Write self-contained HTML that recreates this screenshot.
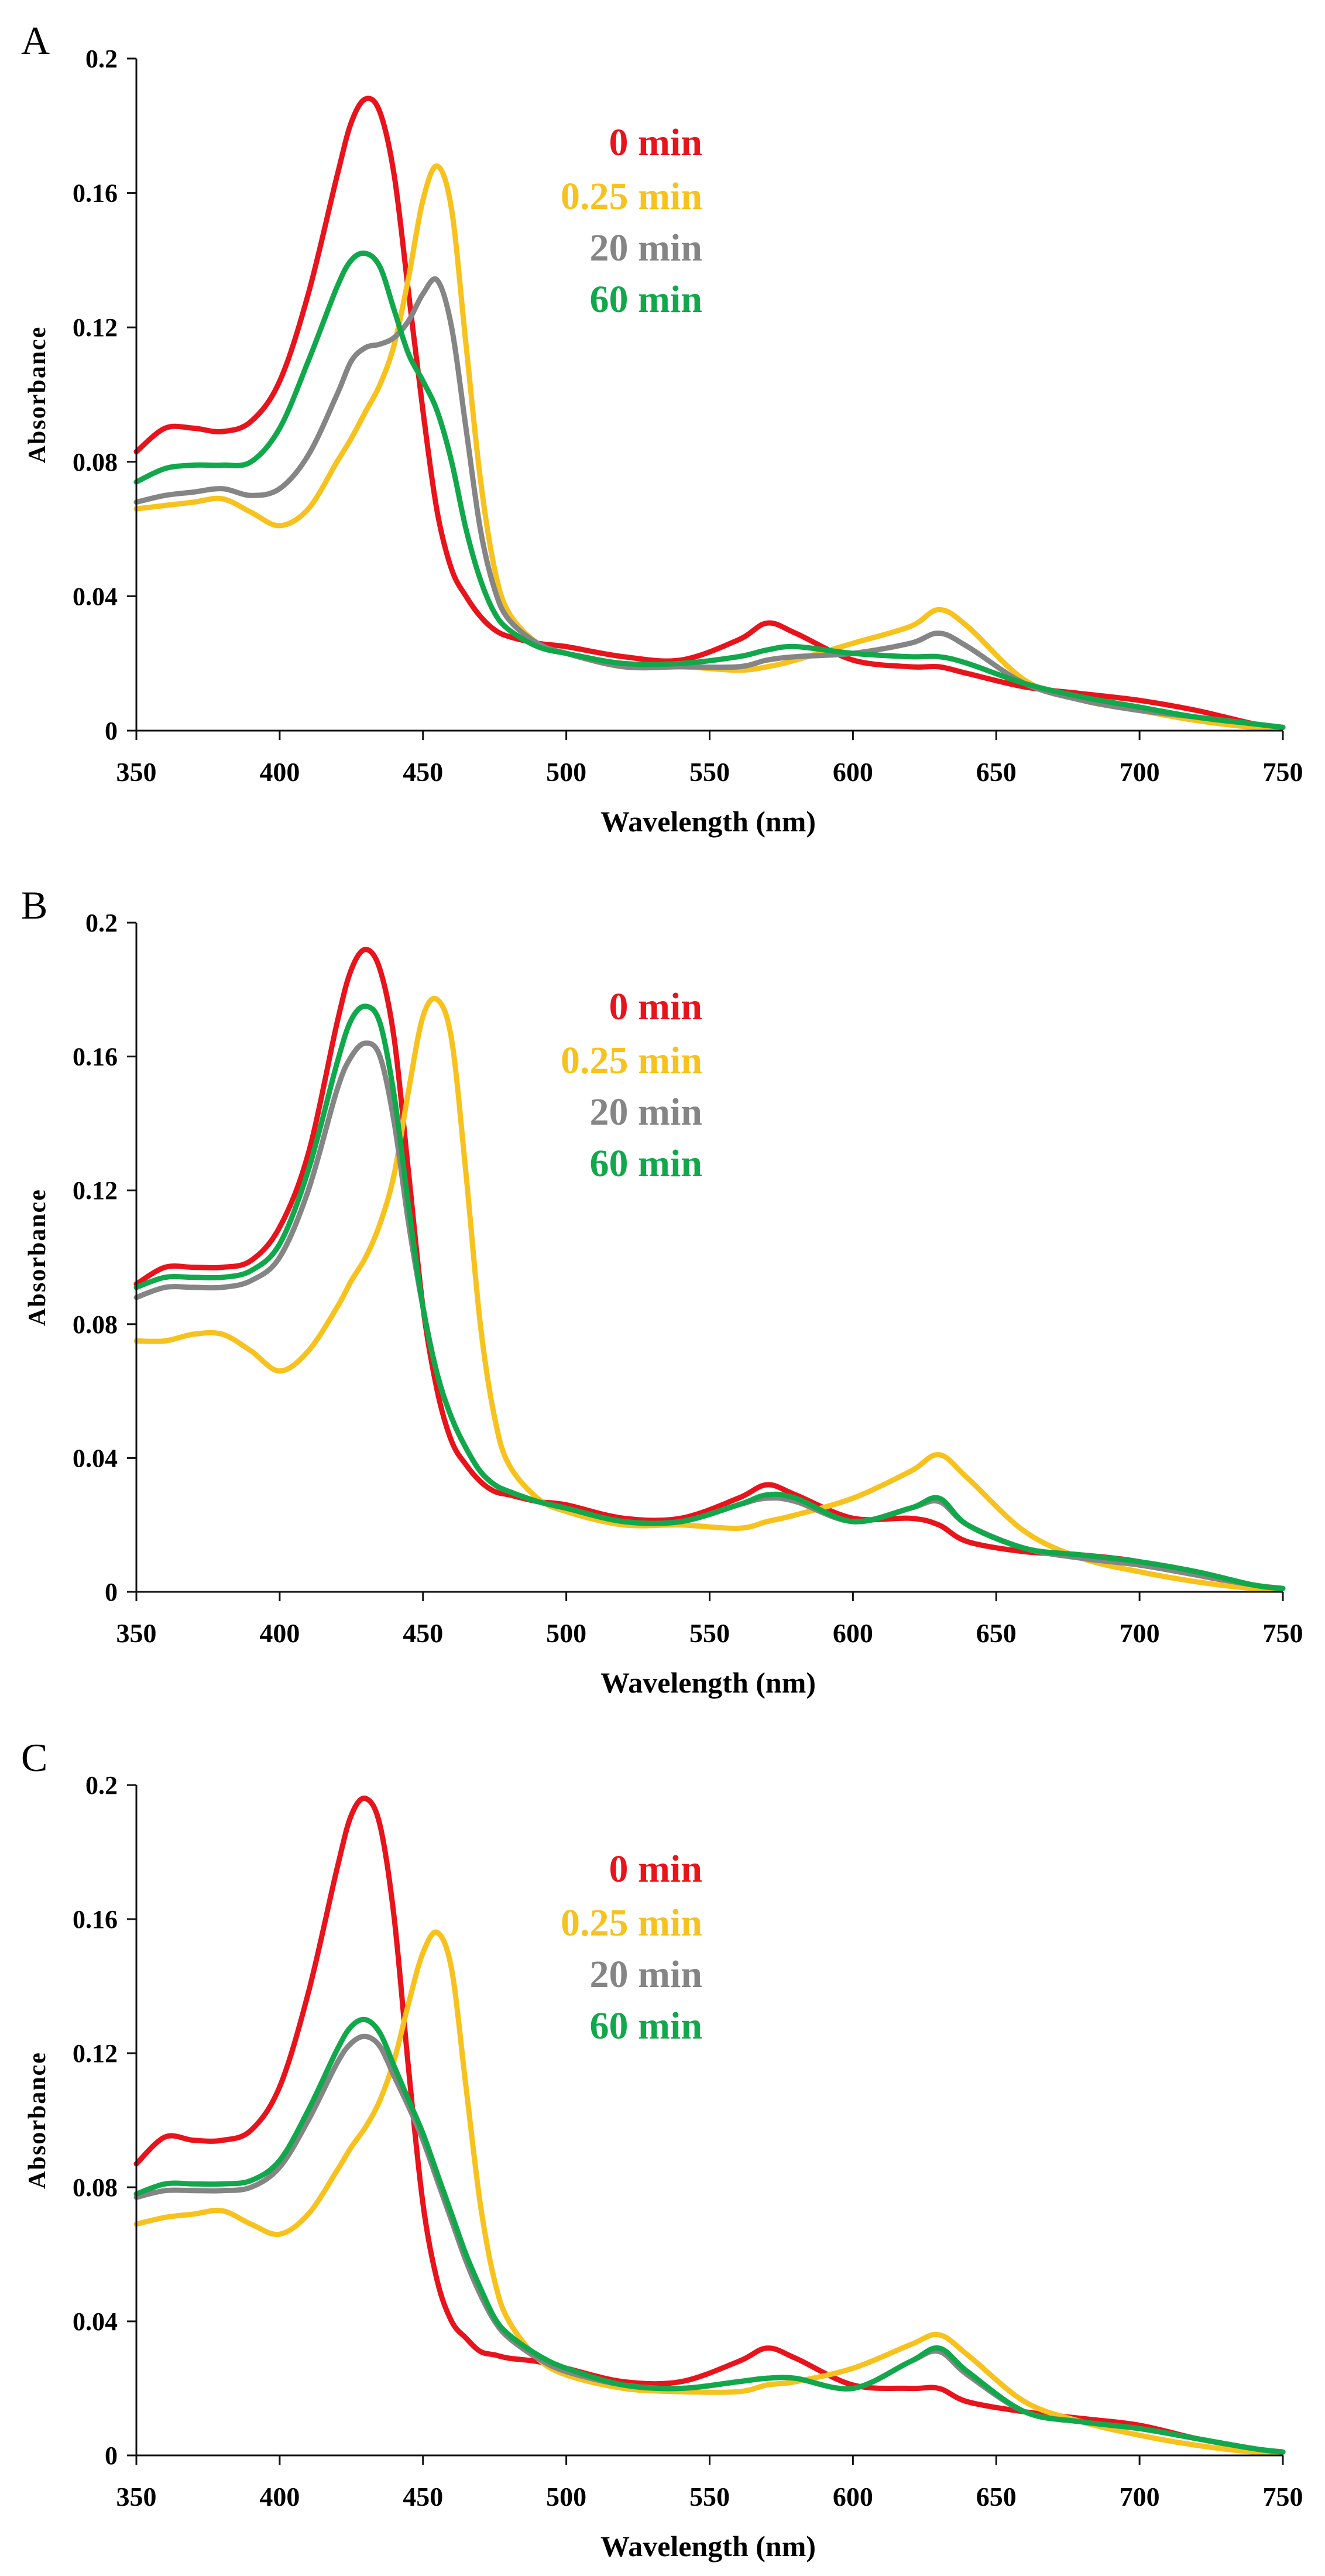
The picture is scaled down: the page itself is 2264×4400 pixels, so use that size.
<!DOCTYPE html>
<html><head><meta charset="utf-8">
<style>
html,body{margin:0;padding:0;background:#fff;}
svg{display:block;}
text{font-family:"Liberation Serif",serif;}
</style></head>
<body>
<svg id="fig" width="2264" height="4400" viewBox="0 0 2264 4400" xmlns="http://www.w3.org/2000/svg">
<rect width="2264" height="4400" fill="#fff"/>
</svg>
<script>
const wavelengths = [350,360,370,380,390,400,410,420,425,430,435,440,445,450,455,460,465,470,475,480,490,500,520,540,560,570,580,600,620,630,640,660,680,700,720,740,750];
const xTicks = [350,400,450,500,550,600,650,700,750];
const yTicks = [0,0.04,0.08,0.12,0.16,0.2];
const yTickLabels = ["0","0.04","0.08","0.12","0.16","0.2"];
const seriesNames = ["0 min","0.25 min","20 min","60 min"];
const panelLabels = ["A","B","C"];

const A_0min  = [.083,.090,.090,.089,.092,.104,.130,.165,.181,.188,.184,.165,.130,.095,.065,.048,.040,.034,.030,.028,.026,.025,.022,.021,.027,.032,.029,.021,.019,.019,.017,.013,.011,.009,.006,.002,.001];
const A_025min= [.066,.067,.068,.069,.065,.061,.066,.080,.087,.095,.103,.115,.135,.158,.168,.155,.115,.075,.048,.035,.026,.023,.019,.019,.018,.019,.021,.026,.031,.036,.031,.015,.009,.006,.003,.001,.001];
const A_20min = [.068,.070,.071,.072,.070,.072,.082,.100,.110,.114,.115,.117,.122,.130,.134,.120,.090,.060,.042,.033,.026,.023,.019,.019,.019,.021,.022,.023,.026,.029,.025,.014,.009,.006,.004,.002,.001];
const A_60min = [.074,.078,.079,.079,.080,.090,.110,.132,.140,.142,.138,.125,.112,.104,.095,.080,.060,.045,.035,.030,.025,.023,.020,.020,.022,.024,.025,.023,.022,.022,.020,.014,.010,.007,.004,.002,.001];

const B_0min  = [.092,.097,.097,.097,.099,.109,.131,.170,.186,.192,.186,.165,.125,.085,.060,.045,.038,.033,.030,.029,.027,.026,.022,.022,.028,.032,.029,.022,.022,.020,.015,.012,.011,.009,.005,.002,.001];
const B_025min= [.075,.075,.077,.077,.072,.066,.072,.085,.093,.100,.110,.125,.150,.172,.177,.165,.125,.080,.052,.038,.028,.024,.020,.020,.019,.021,.023,.028,.036,.041,.034,.018,.010,.006,.003,.001,.001];
const B_20min = [.088,.091,.091,.091,.093,.100,.120,.150,.160,.164,.160,.140,.110,.085,.065,.052,.043,.036,.032,.030,.027,.025,.021,.021,.026,.028,.027,.021,.025,.027,.020,.013,.010,.008,.005,.002,.001];
const B_60min = [.091,.094,.094,.094,.096,.104,.126,.158,.171,.175,.170,.148,.115,.085,.065,.052,.043,.036,.032,.030,.027,.025,.021,.021,.026,.029,.028,.021,.025,.028,.020,.013,.011,.009,.006,.002,.001];

const C_0min  = [.087,.095,.094,.094,.097,.110,.138,.175,.191,.196,.188,.160,.115,.075,.052,.040,.035,.031,.030,.029,.028,.026,.022,.022,.028,.032,.029,.021,.020,.020,.016,.013,.011,.009,.005,.002,.001];
const C_025min= [.069,.071,.072,.073,.069,.066,.072,.085,.092,.098,.106,.118,.135,.150,.156,.145,.110,.075,.052,.040,.029,.024,.020,.019,.019,.021,.022,.026,.033,.036,.030,.016,.010,.006,.003,.001,.001];
const C_20min = [.077,.079,.079,.079,.080,.086,.100,.117,.123,.125,.122,.113,.104,.094,.082,.070,.058,.048,.040,.035,.029,.025,.021,.020,.022,.023,.023,.020,.028,.031,.024,.013,.010,.008,.005,.002,.001];
const C_60min = [.078,.081,.081,.081,.082,.088,.103,.121,.128,.130,.126,.116,.106,.096,.084,.072,.060,.050,.041,.036,.030,.026,.021,.020,.022,.023,.023,.020,.028,.032,.025,.013,.010,.008,.005,.002,.001];

const panelSeries = [[A_0min,A_025min,A_20min,A_60min],[B_0min,B_025min,B_20min,B_60min],[C_0min,C_025min,C_20min,C_60min]];

const colors = ["#e8131b","#f7c21d","#858585","#11a84c"];
const panelTops = [100,1576,3049];
const panelBottoms = [1248,2719,4194];
const letterOffsets = [-8,-7,-24];
const X0 = 233, X1 = 2192;
const NS = "http://www.w3.org/2000/svg";
const svg = document.getElementById("fig");

function mk(tag, attrs, parent){
  const e = document.createElementNS(NS, tag);
  for (const k in attrs) e.setAttribute(k, attrs[k]);
  (parent||svg).appendChild(e);
  return e;
}
function smoothPath(pts){
  let d = "M"+pts[0][0].toFixed(1)+","+pts[0][1].toFixed(1);
  for (let i=0;i<pts.length-1;i++){
    const p0=pts[Math.max(0,i-1)], p1=pts[i], p2=pts[i+1], p3=pts[Math.min(pts.length-1,i+2)];
    const c1x=p1[0]+(p2[0]-p0[0])/6, c1y=p1[1]+(p2[1]-p0[1])/6;
    const c2x=p2[0]-(p3[0]-p1[0])/6, c2y=p2[1]-(p3[1]-p1[1])/6;
    d += " C"+c1x.toFixed(1)+","+c1y.toFixed(1)+" "+c2x.toFixed(1)+","+c2y.toFixed(1)+" "+p2[0].toFixed(1)+","+p2[1].toFixed(1);
  }
  return d;
}

panelLabels.forEach((lab, p) => {
  const top = panelTops[p], bot = panelBottoms[p];
  const xs = nm => X0 + (nm-350)/(750-350)*(X1-X0);
  const ys = v => bot - v/0.2*(bot-top);
  const g = mk("g", {});
  
  

  const pl = mk("text", {x:36, y:top+letterOffsets[p], "font-size":68}, g);
  pl.textContent = lab;
  
  

  panelSeries[p].forEach((vals, s) => {
    const pts = wavelengths.map((w,i)=>[xs(w), ys(vals[i])]);
    const path = mk("path", {d:smoothPath(pts), fill:"none", stroke:colors[s], "stroke-width":9, "stroke-linejoin":"round", "stroke-linecap":"round"}, g);
    
    
  });

  const ya = mk("line", {x1:X0, y1:top, x2:X0, y2:bot+16, stroke:"#111", "stroke-width":3}, g);
  
  
  const xa = mk("line", {x1:X0-16, y1:bot, x2:X1, y2:bot, stroke:"#111", "stroke-width":3}, g);
  
  

  yTicks.forEach((v,i) => {
    const y = ys(v);
    mk("line", {x1:X0-16, y1:y, x2:X0, y2:y, stroke:"#111", "stroke-width":3}, g);
    const t = mk("text", {x:201, y:y+15, "font-size":44, "font-weight":"bold", "text-anchor":"end"}, g);
    t.textContent = yTickLabels[i];
    
    
  });
  xTicks.forEach(w => {
    const x = xs(w);
    mk("line", {x1:x, y1:bot, x2:x, y2:bot+16, stroke:"#111", "stroke-width":3}, g);
    const t = mk("text", {x:x, y:bot+86, "font-size":46, "font-weight":"bold", "text-anchor":"middle"}, g);
    t.textContent = String(w);
    
    
  });

  const xt = mk("text", {x:1210, y:bot+172, "font-size":50, "font-weight":"bold", "text-anchor":"middle"}, g);
  xt.textContent = "Wavelength (nm)";
  
  

  const cy = (top+bot)/2;
  const yt = mk("text", {x:0, y:0, "font-size":42, "font-weight":"bold", "text-anchor":"middle", "letter-spacing":"2", transform:"translate(77,"+cy+") rotate(-90)"}, g);
  yt.textContent = "Absorbance";
  
  

  const legOffsets = [165,257,345,433];
  seriesNames.forEach((n, s) => {
    const t = mk("text", {x:1200, y:top+legOffsets[s], "font-size":66, "font-weight":"bold", "text-anchor":"end", fill:colors[s]}, g);
    t.textContent = n;
    
    
  });
});
</script>
</body></html>
